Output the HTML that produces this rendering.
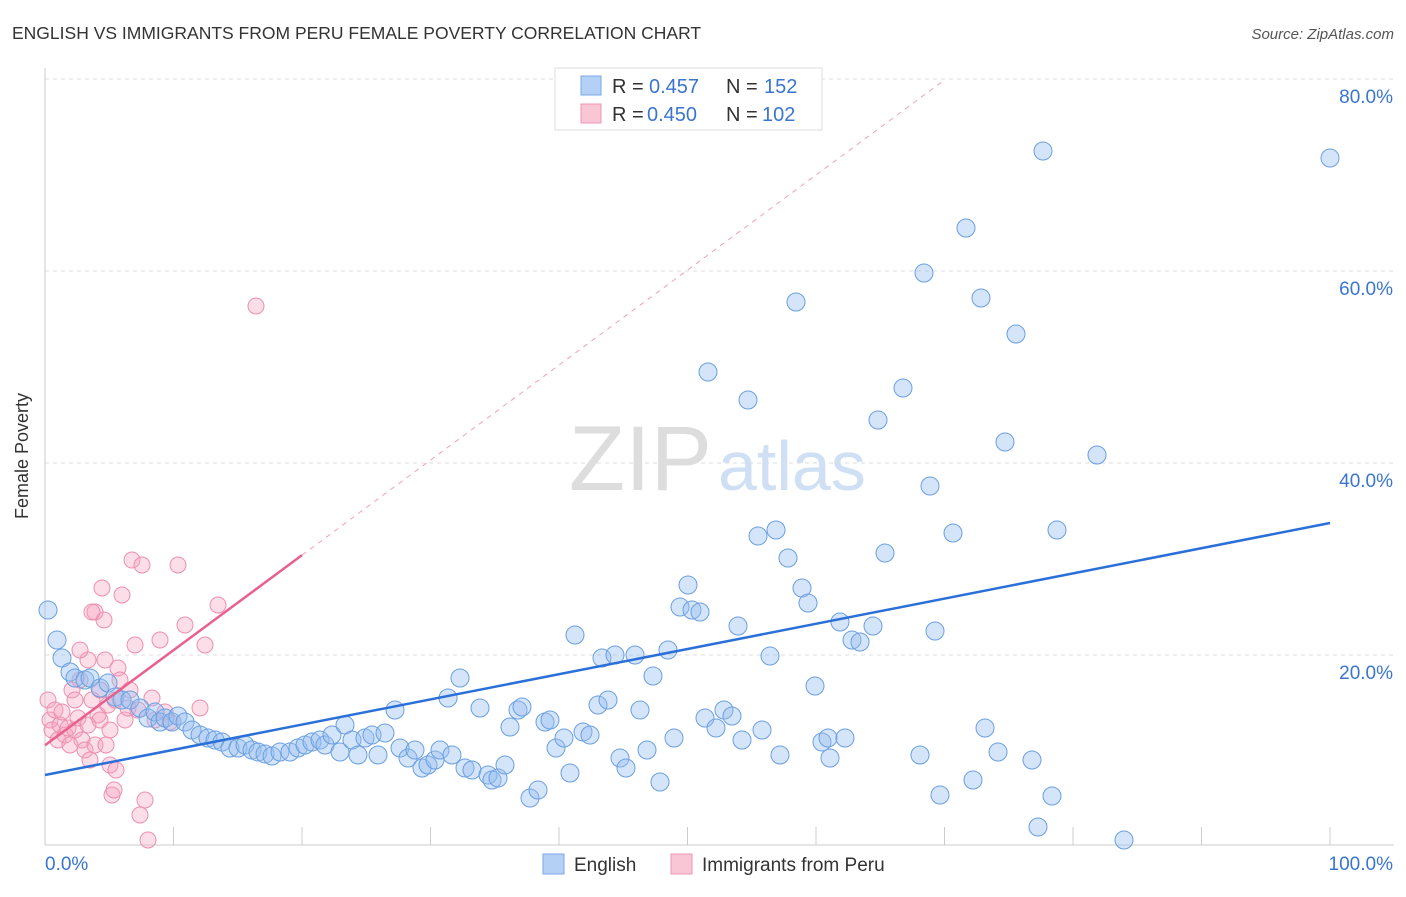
<!DOCTYPE html>
<html><head><meta charset="utf-8"><style>
body{margin:0;background:#fff;font-family:"Liberation Sans",sans-serif;}
svg text{font-family:"Liberation Sans",sans-serif;}
</style></head><body>
<svg id="chart" width="1406" height="892" xmlns="http://www.w3.org/2000/svg">
<text x="12" y="39" font-size="17.5" fill="#333">ENGLISH VS IMMIGRANTS FROM PERU FEMALE POVERTY CORRELATION CHART</text>
<text x="1394" y="39" font-size="15" fill="#555" font-style="italic" text-anchor="end">Source: ZipAtlas.com</text>
<text x="28" y="456" font-size="18" fill="#333" transform="rotate(-90 28 456)" text-anchor="middle">Female Poverty</text>
<g id="grid"></g>
<g id="ticks"></g>
<text x="712" y="490" font-size="92" fill="#ddd" text-anchor="end" font-family="Liberation Serif">ZIP</text>
<text x="718" y="490" font-size="70" fill="#cfe0f5">atlas</text>
<g id="peru"></g>
<g id="eng"></g>
<g id="lines"></g>
<g>
<rect x="555" y="68" width="267" height="62" fill="#fff" stroke="#ddd"/>
<rect x="581" y="76" width="20" height="19" fill="#b5d0f5" stroke="#7aa8e8"/>
<text x="612" y="93" font-size="20" fill="#333">R =</text>
<text x="649" y="93" font-size="20" fill="#3a75d0">0.457</text>
<text x="726" y="93" font-size="20" fill="#333">N =</text>
<text x="764" y="93" font-size="20" fill="#3a75d0">152</text>
<rect x="581" y="104" width="20" height="19" fill="#f9c6d6" stroke="#ee94b3"/>
<text x="612" y="121" font-size="20" fill="#333">R =</text>
<text x="647" y="121" font-size="20" fill="#3a75d0">0.450</text>
<text x="726" y="121" font-size="20" fill="#333">N =</text>
<text x="762" y="121" font-size="20" fill="#3a75d0">102</text>
</g>
<g>
<rect x="543" y="854" width="21" height="20" fill="#b5d0f5" stroke="#7aa8e8"/>
<text x="574" y="871" font-size="19" fill="#333">English</text>
<rect x="671" y="854" width="21" height="20" fill="#f9c6d6" stroke="#ee94b3"/>
<text x="702" y="871" font-size="19" fill="#333">Immigrants from Peru</text>
</g>
</svg>
<script>
const xTicks=[0,10,20,30,40,50,60,70,80,90,100];
const yTicks=[20,40,60,80];
const engTrend=[7.5,33.75];
const peruTrend=[10.6,30.4];
const engPx=[[48,610],[57,640],[62,658],[70,672],[75,678],[85,680],[90,678],[100,688],[108,683],[115,697],[122,700],[130,700],[140,708],[148,718],[155,712],[160,722],[165,718],[172,722],[178,716],[185,722],[192,730],[200,735],[208,738],[215,740],[222,742],[230,748],[238,748],[245,745],[252,750],[258,752],[265,754],[272,756],[280,752],[290,752],[298,748],[305,745],[312,742],[320,740],[325,745],[332,735],[340,752],[345,725],[352,740],[358,755],[365,738],[372,735],[378,755],[385,733],[395,710],[400,748],[408,758],[415,750],[422,768],[428,765],[435,760],[440,750],[448,698],[452,755],[460,678],[465,768],[472,770],[480,708],[488,775],[492,780],[498,778],[505,765],[510,727],[518,710],[522,707],[530,798],[538,790],[545,722],[550,720],[556,748],[564,738],[570,773],[575,635],[583,732],[590,735],[598,705],[602,658],[608,700],[615,655],[620,758],[626,768],[635,655],[640,710],[647,750],[653,676],[660,782],[668,650],[674,738],[680,607],[688,585],[692,610],[700,612],[705,718],[708,372],[716,728],[724,710],[732,716],[738,626],[742,740],[748,400],[758,536],[762,730],[770,656],[776,530],[780,755],[788,558],[796,302],[802,588],[808,603],[815,686],[822,742],[828,738],[830,758],[840,622],[845,738],[852,640],[860,642],[873,626],[878,420],[885,553],[903,388],[920,755],[924,273],[930,486],[935,631],[940,795],[953,533],[966,228],[973,780],[981,298],[985,728],[998,752],[1005,442],[1016,334],[1032,760],[1038,827],[1043,151],[1052,796],[1057,530],[1097,455],[1124,840],[1330,158]];
const peruPx=[[48,700],[50,720],[52,730],[55,710],[58,740],[60,725],[62,712],[65,735],[68,728],[70,745],[72,690],[75,730],[78,718],[80,680],[82,740],[85,750],[88,725],[90,760],[92,700],[95,745],[98,715],[100,690],[102,588],[104,620],[106,745],[108,705],[110,765],[112,795],[114,790],[116,770],[118,668],[120,680],[122,595],[125,720],[128,708],[132,560],[135,645],[138,710],[142,565],[145,800],[148,840],[152,698],[155,720],[160,640],[165,712],[170,722],[178,565],[185,625],[200,708],[205,645],[218,605],[256,306],[95,612],[92,612],[88,660],[80,650],[100,720],[110,730],[140,815],[130,690],[115,700],[105,660],[75,700]];
const engX=engPx.map(p=>(p[0]-45)/12.85), engY=engPx.map(p=>(847-p[1])/9.6);
const peruX=peruPx.map(p=>(p[0]-45)/12.85), peruY=peruPx.map(p=>(847-p[1])/9.6);
const X=v=>45+v*12.85, Y=v=>847-v*9.6;
const NS="http://www.w3.org/2000/svg";
function mk(tag,attrs,parent){const e=document.createElementNS(NS,tag);for(const k in attrs)e.setAttribute(k,attrs[k]);parent.appendChild(e);return e;}
const grid=document.getElementById('grid'),ticks=document.getElementById('ticks');
yTicks.forEach(t=>{
 const l=mk('line',{x1:45,x2:1394,y1:Y(t),y2:Y(t),stroke:'#ddd','stroke-dasharray':'4,4'},grid);
 
 
 const tx=mk('text',{x:1393,y:Y(t)+24,'font-size':19,fill:'#3a75d0','text-anchor':'end'},ticks);
 tx.textContent=t.toFixed(1)+'%';
 
 
});
mk('line',{x1:45,x2:45,y1:68,y2:845,stroke:'#ccc'},grid);
mk('line',{x1:45,x2:1394,y1:845,y2:845,stroke:'#ccc'},grid);
xTicks.forEach(t=>{const l=mk('line',{x1:X(t),x2:X(t),y1:827,y2:845,stroke:'#ccc'},ticks);
 
 });
[[0,'0.0%','start',45],[100,'100.0%','end',1393]].forEach(a=>{const tx=mk('text',{x:a[3],y:870,'font-size':19,fill:'#3a75d0','text-anchor':a[2]},ticks);tx.textContent=a[1];
 
 });
const pg=document.getElementById('peru'),eg=document.getElementById('eng');
peruX.forEach((x,i)=>{const c=mk('circle',{cx:X(x),cy:Y(peruY[i]),r:8,fill:'rgba(245,160,190,0.35)',stroke:'#ec8fb0','stroke-width':1},pg);
 
 });
engX.forEach((x,i)=>{const c=mk('circle',{cx:X(x),cy:Y(engY[i]),r:9,fill:'rgba(150,190,240,0.4)',stroke:'#6a9fe0','stroke-width':1},eg);
 
 });
const lg=document.getElementById('lines');
const s=(peruTrend[1]-peruTrend[0])/20;
const d=mk('line',{x1:X(20),y1:Y(peruTrend[1]),x2:X(70),y2:Y(peruTrend[0]+s*70),stroke:'#f0a0bb','stroke-dasharray':'5,5','stroke-width':1},lg);


const p=mk('line',{x1:X(0),y1:Y(peruTrend[0]),x2:X(20),y2:Y(peruTrend[1]),stroke:'#e8608e','stroke-width':2.5},lg);


const e=mk('line',{x1:X(0),y1:Y(engTrend[0]),x2:X(100),y2:Y(engTrend[1]),stroke:'#2a70d8','stroke-width':2.5},lg);


</script>
</body></html>
